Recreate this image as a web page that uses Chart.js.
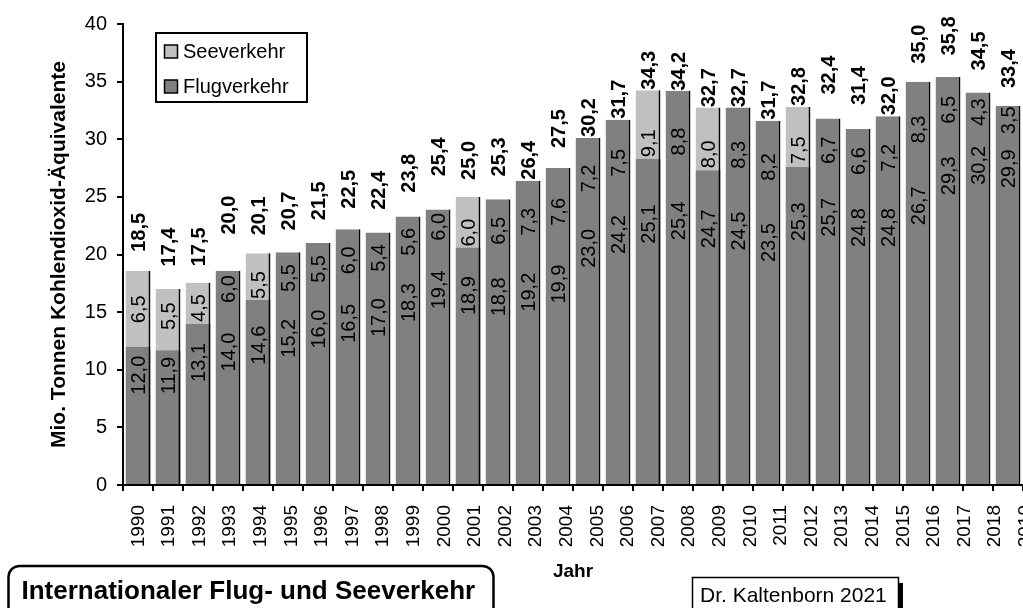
<!DOCTYPE html>
<html><head><meta charset="utf-8">
<script src="https://cdn.jsdelivr.net/npm/chart.js@4"></script>
<style>html,body{margin:0;padding:0;background:#fff;overflow:hidden}#wrap{position:relative;width:1023px;height:608px}</style>
</head><body><div id="wrap"><canvas id="c" width="1023" height="608"></canvas></div>
<script>
// ---- data ----
const years = [1990,1991,1992,1993,1994,1995,1996,1997,1998,1999,2000,2001,2002,2003,2004,2005,2006,2007,2008,2009,2010,2011,2012,2013,2014,2015,2016,2017,2018,2019];
const tickLabels = ['1990','1991','1992','1993','1994','1995','1996','1997','1998','1999','2000','2001','2002','2003','2004','2005','2006','2007','2008','2009','2010','2011','2012','2013','2014','2015','2016','2017','2018','2019'];
// values printed in the bars
const flugValues = [12.0,11.9,13.1,14.0,14.6,15.2,16.0,16.5,17.0,18.3,19.4,18.9,18.8,19.2,19.9,23.0,24.2,25.1,25.4,24.7,24.5,23.5,25.3,25.7,24.8,24.8,26.7,29.3,30.2,29.9];
const seeValues = [6.5,5.5,4.5,6.0,5.5,5.5,5.5,6.0,5.4,5.6,6.0,6.0,6.5,7.3,7.6,7.2,7.5,9.1,8.8,8.0,8.3,8.2,7.5,6.7,6.6,7.2,8.3,6.5,4.3,3.5];
const totalValues = [18.5,17.4,17.5,20.0,20.1,20.7,21.5,22.5,22.4,23.8,25.4,25.0,25.3,26.4,27.5,30.2,31.7,34.3,34.2,32.7,32.7,31.7,32.8,32.4,31.4,32.0,35.0,35.8,34.5,33.4];
// bar heights as drawn in the picture
const flugBarTops = [12.0,11.7,14.0,18.6,16.05,20.2,21.0,22.2,21.9,23.3,23.9,20.6,24.8,26.4,27.5,30.1,31.7,28.3,34.2,27.3,32.75,31.6,27.6,31.8,30.9,32.0,35.0,35.4,34.05,32.9];
const seeBarTops = [18.6,17.0,17.55,null,20.1,null,null,null,null,null,null,25.0,null,null,null,null,null,34.25,null,32.75,null,null,32.8,null,null,null,null,null,null,null];

// ---- layout / style ----
const totalLabelGap = [20,18,17,20,18,16,17,17,17,18,16,17,17,1,20,0,1,0,0,1,1,0,1,17,18,1,18,17,17,12];
const FONT = '"Liberation Sans", Arial, sans-serif';
const DARK = '#808080', LIGHT = '#c0c0c0';
const fmt = v => v.toFixed(1).replace('.', ',');

function drawRot(ctx, t, x, y, align) {
  ctx.save(); ctx.translate(x, y); ctx.rotate(-Math.PI / 2);
  ctx.textAlign = align; ctx.textBaseline = 'middle'; ctx.fillText(t, 0, 0); ctx.restore();
}

const valuePlugin = {
  id: 'vals',
  afterDatasetsDraw(chart) {
    const {ctx, scales: {x, y}} = chart;
    ctx.save(); ctx.fillStyle = '#000';
    years.forEach((yr, i) => {
      const px = x.getPixelForValue(yr);
      const yF = y.getPixelForValue(flugValues[i]);
      const yS = y.getPixelForValue(flugValues[i] + seeValues[i]);
      const yT = y.getPixelForValue(totalValues[i]);
      ctx.font = '20px ' + FONT;
      drawRot(ctx, fmt(flugValues[i]), px + 1, yF + 9, 'right');
      drawRot(ctx, fmt(seeValues[i]), px + 1, (yF + yS) / 2, 'center');
      ctx.font = 'bold 20px ' + FONT;
      drawRot(ctx, fmt(totalValues[i]), px + 1, yT - totalLabelGap[i], 'left');
    });
    ctx.restore();
  }
};

const decorPlugin = {
  id: 'decor',
  afterDraw(chart) {
    const ctx = chart.ctx;
    ctx.save();
    // legend box
    ctx.fillStyle = '#fff'; ctx.strokeStyle = '#000'; ctx.lineWidth = 2;
    ctx.fillRect(156, 33, 151, 69); ctx.strokeRect(156, 33, 151, 69);
    const items = [[chart.data.datasets[1].label, LIGHT, 51.5], [chart.data.datasets[0].label, DARK, 86.5]];
    items.forEach(([t, c, cy]) => {
      ctx.fillStyle = c; ctx.fillRect(164.5, cy - 6.5, 13, 13);
      ctx.lineWidth = 1.5; ctx.strokeRect(164.5, cy - 6.5, 13, 13);
      ctx.fillStyle = '#000'; ctx.font = '20px ' + FONT;
      ctx.textAlign = 'left'; ctx.textBaseline = 'middle';
      ctx.fillText(t, 183, cy + 1);
    });
    // title box (rounded)
    ctx.lineWidth = 2.5; ctx.strokeStyle = '#000';
    ctx.beginPath(); ctx.roundRect(8.5, 566, 485, 80, 11); ctx.stroke();
    ctx.fillStyle = '#000'; ctx.font = 'bold 26px ' + FONT;
    ctx.textAlign = 'left'; ctx.textBaseline = 'alphabetic';
    ctx.fillText('Internationaler Flug- und Seeverkehr', 21.5, 598.5);
    // author box with shadow
    ctx.fillStyle = '#000'; ctx.fillRect(898, 583, 5, 30);
    ctx.lineWidth = 1.5; ctx.strokeRect(692.5, 577.5, 206, 50);
    ctx.font = '21px ' + FONT;
    ctx.fillText('Dr. Kaltenborn 2021', 700, 601.5);
    ctx.restore();
  }
};

const barBorder = {top: 0, left: 0, bottom: 0, right: 2};
new Chart(document.getElementById('c'), {
  type: 'bar',
  data: {
    datasets: [
      {label: 'Flugverkehr', data: years.map((yr, i) => ({x: yr, y: flugBarTops[i]})),
       backgroundColor: DARK, borderColor: '#000', borderWidth: barBorder, borderSkipped: false,
       grouped: false, xAxisID: 'x', yAxisID: 'y'},
      {label: 'Seeverkehr', data: years.map((yr, i) => ({x: yr, y: seeBarTops[i]})),
       backgroundColor: LIGHT, borderColor: '#000', borderWidth: barBorder, borderSkipped: false,
       grouped: false, xAxisID: 'x', yAxisID: 'y'}
    ]
  },
  options: {
    responsive: false, animation: false, devicePixelRatio: 1,
    layout: {padding: {top: 24, right: 0, bottom: 0, left: 0}},
    plugins: {legend: {display: false}, tooltip: {enabled: false}},
    barPercentage: 0.83, categoryPercentage: 1,
    scales: {
      x: {type: 'linear', position: 'bottom', weight: 0, offset: false,
          min: years[0] - 0.5, max: years[years.length - 1] + 0.5, bounds: 'data',
          ticks: {display: false},
          grid: {display: true, offset: false, drawOnChartArea: false, drawTicks: true, tickLength: 6, color: '#000', lineWidth: 2},
          border: {display: true, color: '#000', width: 2},
          afterBuildTicks: s => { s.ticks = years.concat([years[years.length - 1] + 1]).map(v => ({value: v - 0.5})); },
          afterFit: s => { s.height = 6; s.paddingLeft = 0; s.paddingRight = 0; }},
      x2: {type: 'linear', position: 'bottom', weight: 1, offset: false,
          min: 1989.5, max: 1989.5 + 900 / 30.6, bounds: 'data',
          grid: {display: false, offset: false}, border: {display: false},
          ticks: {autoSkip: false, minRotation: 90, maxRotation: 90, padding: 6, color: '#000',
                  font: {family: FONT, size: 19},
                  callback: v => tickLabels[years.indexOf(v)]},
          title: {display: true, text: 'Jahr', color: '#000', font: {family: FONT, size: 19, weight: 'bold'}, padding: {top: 0, bottom: 25}},
          afterBuildTicks: s => { s.ticks = years.map(v => ({value: v})); },
          afterFit: s => { s.height = 117; s.paddingLeft = 0; s.paddingRight = 0; }},
      y: {min: 0, max: 40,
          ticks: {stepSize: 5, padding: 10, color: '#000', font: {family: FONT, size: 20}},
          grid: {drawOnChartArea: false, tickLength: 6, color: '#000', lineWidth: 2},
          border: {color: '#000', width: 2},
          title: {display: true, text: 'Mio. Tonnen Kohlendioxid-Äquivalente', color: '#000',
                  font: {family: FONT, size: 21, weight: 'bold'}, padding: {top: 47, bottom: 0}},
          afterFit: s => { s.width = 123; }}
    }
  },
  plugins: [valuePlugin, decorPlugin]
});
</script></body></html>
